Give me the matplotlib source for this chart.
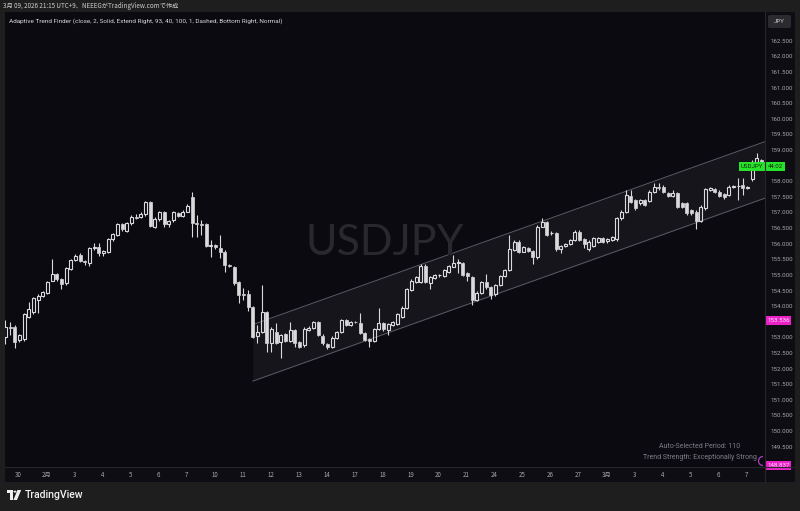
import matplotlib
matplotlib.use('Agg')
import matplotlib.pyplot as plt
from matplotlib.patches import Rectangle, Polygon, Circle, Arc, FancyBboxPatch
import matplotlib.transforms as mtransforms
import numpy as np

# ---------------- data (USDJPY, 4H candles) ----------------
opens = [
    153.02, 153.32, 153.34, 152.92, 152.95, 153.66, 153.80, 154.20, 154.34, 154.41,
    154.80, 155.02, 154.86, 154.73, 155.19, 155.48, 155.64, 155.45, 155.37, 155.85,
    155.89, 155.69, 155.74, 156.14, 156.28, 156.62, 156.41, 156.65, 156.87, 156.87,
    156.94, 157.32, 156.55, 156.79, 157.00, 156.62, 156.75, 156.98, 156.90, 157.03,
    157.48, 156.65, 156.62, 156.62, 155.93, 155.96, 155.85, 155.75, 155.32, 155.26,
    154.76, 154.38, 154.38, 153.96, 153.06, 153.18, 153.80, 152.81, 153.16, 152.86,
    153.10, 152.88, 153.24, 152.84, 152.76, 153.24, 153.31, 153.50, 153.06, 152.78,
    152.70, 152.97, 153.18, 153.56, 153.40, 153.50, 153.45, 153.13, 152.95, 152.88,
    153.27, 153.45, 153.24, 153.40, 153.43, 153.66, 153.95, 154.52, 154.78, 154.78,
    155.30, 154.73, 154.89, 154.99, 154.97, 155.10, 155.27, 155.39, 155.39, 155.05,
    154.92, 154.20, 154.43, 154.78, 154.62, 154.38, 154.68, 154.97, 155.16, 155.80,
    156.07, 155.75, 155.86, 155.77, 155.56, 156.55, 156.68, 156.33, 156.33, 155.82,
    155.93, 155.99, 156.12, 156.39, 156.14, 155.82, 155.93, 156.07, 156.17, 156.10,
    156.12, 156.14, 156.81, 157.03, 157.53, 157.40, 157.29, 157.40, 157.38, 157.67,
    157.83, 157.83, 157.61, 157.53, 157.61, 157.29, 157.29, 157.08, 157.03, 156.74,
    157.13, 157.72, 157.74, 157.67, 157.58, 157.56, 157.83, 157.85, 157.88, 157.80,
    158.06, 158.63, 158.68]
highs = [
    153.55, 153.50, 153.40, 153.12, 153.78, 154.14, 154.30, 154.38, 154.48, 154.80,
    155.51, 155.06, 154.90, 155.25, 155.52, 155.68, 155.70, 155.48, 155.90, 156.01,
    156.01, 155.80, 156.18, 156.34, 156.66, 156.66, 156.70, 156.92, 156.95, 157.02,
    157.36, 157.36, 156.84, 157.05, 157.04, 156.77, 157.04, 157.02, 157.08, 157.26,
    157.67, 156.92, 156.76, 156.66, 156.12, 156.00, 156.28, 155.80, 155.36, 155.30,
    154.80, 154.57, 154.52, 154.00, 153.40, 154.68, 153.84, 153.32, 153.45, 153.12,
    153.14, 153.50, 153.28, 152.88, 153.32, 153.36, 153.52, 153.54, 153.10, 152.82,
    153.03, 153.22, 153.60, 153.60, 153.54, 153.52, 153.77, 153.16, 152.98, 153.31,
    153.93, 153.49, 153.47, 153.54, 153.78, 153.99, 154.59, 154.86, 154.98, 155.34,
    155.34, 154.96, 155.04, 155.04, 155.20, 155.33, 155.64, 155.50, 155.43, 155.08,
    154.96, 154.47, 154.82, 155.03, 154.66, 154.72, 155.01, 155.20, 156.28, 156.11,
    156.11, 155.92, 155.90, 155.81, 156.59, 156.81, 156.72, 156.40, 156.37, 155.97,
    156.03, 156.16, 156.43, 156.43, 156.18, 156.11, 156.21, 156.21, 156.21, 156.18,
    156.26, 156.85, 157.07, 157.72, 157.72, 157.44, 157.44, 157.44, 157.71, 157.95,
    157.95, 157.87, 157.65, 157.72, 157.65, 157.33, 157.35, 157.12, 157.07, 157.23,
    157.78, 157.81, 157.78, 157.71, 157.62, 157.87, 157.89, 158.09, 158.09, 157.84,
    158.67, 158.89, 158.72]
lows = [
    152.80, 153.08, 152.65, 152.86, 152.90, 153.62, 153.75, 153.77, 154.30, 154.38,
    154.80, 154.82, 154.55, 154.68, 155.15, 155.44, 155.42, 155.33, 155.30, 155.80,
    155.60, 155.62, 155.70, 156.10, 156.24, 156.40, 156.36, 156.60, 156.78, 156.82,
    156.90, 156.52, 156.50, 156.74, 156.55, 156.55, 156.70, 156.85, 156.86, 157.00,
    156.22, 156.22, 156.28, 155.88, 155.58, 155.84, 155.53, 155.10, 155.25, 154.68,
    154.09, 154.20, 153.84, 152.98, 152.81, 153.14, 152.54, 152.54, 152.78, 152.33,
    152.86, 152.84, 152.70, 152.65, 152.70, 153.20, 153.28, 153.04, 152.77, 152.62,
    152.66, 152.94, 153.14, 153.36, 153.36, 153.46, 153.10, 152.88, 152.70, 152.84,
    153.23, 153.22, 153.08, 153.36, 153.40, 153.62, 153.92, 154.48, 154.74, 154.74,
    154.74, 154.54, 154.86, 154.95, 154.94, 155.06, 155.24, 155.05, 154.96, 154.80,
    154.04, 154.16, 154.40, 154.56, 154.22, 154.34, 154.64, 154.94, 155.12, 155.76,
    155.69, 155.72, 155.74, 155.35, 155.52, 156.52, 156.24, 156.28, 155.78, 155.69,
    155.90, 155.96, 156.08, 156.08, 155.85, 155.78, 155.89, 156.03, 156.03, 156.02,
    156.08, 156.10, 156.77, 156.99, 157.31, 157.09, 157.25, 157.20, 157.34, 157.63,
    157.73, 157.63, 157.49, 157.49, 157.15, 157.15, 156.93, 156.93, 156.46, 156.70,
    157.09, 157.68, 157.63, 157.49, 157.44, 157.52, 157.79, 157.40, 157.56, 157.76,
    158.02, 158.59, 158.55]
closes = [
    153.32, 153.30, 152.86, 153.08, 153.74, 153.91, 154.25, 154.34, 154.44, 154.76,
    155.02, 154.86, 154.72, 155.21, 155.48, 155.62, 155.45, 155.40, 155.85, 155.89,
    155.69, 155.77, 156.14, 156.30, 156.62, 156.46, 156.65, 156.87, 156.82, 156.96,
    157.32, 156.58, 156.79, 157.00, 156.62, 156.73, 157.00, 156.90, 157.03, 157.22,
    156.65, 156.62, 156.60, 155.93, 155.95, 155.89, 155.75, 155.32, 155.30, 154.73,
    154.36, 154.36, 153.98, 153.02, 153.18, 153.80, 152.81, 153.27, 152.83, 153.08,
    152.90, 153.24, 152.82, 152.70, 153.27, 153.31, 153.48, 153.08, 152.81, 152.70,
    152.99, 153.18, 153.56, 153.40, 153.50, 153.48, 153.13, 152.92, 152.88, 153.27,
    153.45, 153.26, 153.43, 153.50, 153.74, 153.95, 154.55, 154.82, 154.94, 155.30,
    154.78, 154.92, 155.00, 155.00, 155.16, 155.29, 155.37, 155.40, 155.00, 154.97,
    154.20, 154.43, 154.78, 154.60, 154.36, 154.68, 154.97, 155.16, 155.83, 156.07,
    155.75, 155.88, 155.77, 155.58, 156.55, 156.68, 156.28, 156.35, 155.82, 155.93,
    155.99, 156.12, 156.39, 156.12, 155.99, 156.07, 156.17, 156.17, 156.07, 156.14,
    156.22, 156.81, 157.03, 157.56, 157.35, 157.13, 157.40, 157.24, 157.67, 157.83,
    157.77, 157.67, 157.53, 157.63, 157.19, 157.19, 156.97, 156.97, 156.73, 157.19,
    157.74, 157.77, 157.67, 157.53, 157.48, 157.83, 157.85, 157.86, 157.80, 157.80,
    158.63, 158.73, 158.59]

day_labels = ['30', '2月', '3', '4', '5', '6', '7', '10', '11', '12', '13', '14',
              '17', '18', '19', '20', '21', '24', '25', '26', '27', '3月', '3',
              '4', '5', '6', '7']
price_ticks = [149.5, 150.0, 150.5, 151.0, 151.5, 152.0, 152.5, 153.0, 153.5,
               154.0, 154.5, 155.0, 155.5, 156.0, 156.5, 157.0, 157.5, 158.0,
               158.5, 159.0, 159.5, 160.0, 160.5, 161.0, 161.5, 162.0, 162.5]
hidden_ticks = [153.5, 158.5]   # covered by the price labels in the original

# Adaptive Trend Finder channel (period 110)
channel_start = 53
channel_end = 162
channel_upper = [153.41, 159.23]
channel_lower = [151.60, 157.42]

last_price = 158.47
last_countdown = '44:02'
marker_price_hi = 153.536
marker_price_lo = 148.837

header = '3月 09, 2026 21:15 UTC+9、NEEEGがTradingView.comで作成'
indicator_title = ('Adaptive Trend Finder (close, 2, Solid, Extend Right, 93, 40, 100, 1, '
                   'Dashed, Bottom Right, Normal)')
info_lines = ['Auto-Selected Period: 110', 'Trend Strength: Exceptionally Strong']

# ---------------- style ----------------
W, H = 800, 511
FRAME = '#1e1e1e'
PANEL = '#0e0d13'
BG = '#0b0a11'
CANDLE = '#dadadc'
TXT = '#a6a6ac'
CJK = ['Noto Sans CJK JP', 'DejaVu Sans']
SANS = ['Roboto', 'DejaVu Sans']


def fr(x0, y0, x1, y1):
    return [x0 / W, 1 - y1 / H, (x1 - x0) / W, (y1 - y0) / H]


def fx(x):
    return x / W


def fy(y):
    return 1 - y / H


fig = plt.figure(figsize=(8, 5.11), dpi=100, facecolor=FRAME)

# panel (price / time axis area)
fig.add_artist(Rectangle((fx(5), fy(482)), (795 - 5) / W, (482 - 12) / H,
                         transform=fig.transFigure, facecolor=PANEL,
                         edgecolor='none', zorder=-2))

ax = fig.add_axes(fr(5, 12, 765, 467))
ax.set_facecolor(BG)
for s in ax.spines.values():
    s.set_visible(False)

o = np.array(opens)
h = np.array(highs)
l = np.array(lows)
c = np.array(closes)
idx = np.arange(len(c))
up = c >= o
top = np.maximum(o, c)
bot = np.minimum(o, c)
body = np.maximum(top - bot, 0.012)

XL, XR = -0.1, 162.75
YL, YH = 148.85, 163.42
ax.set_xlim(XL, XR)
ax.set_ylim(YL, YH)

# channel
slope = (channel_upper[1] - channel_upper[0]) / (channel_end - channel_start)
xs = np.array([channel_start, XR])
upper = channel_upper[0] + slope * (xs - channel_start)
lower = channel_lower[0] + slope * (xs - channel_start)
ax.fill_between(xs, lower, upper, color='#16151c', lw=0, zorder=1)
ax.plot(xs, upper, color='#5c5b64', lw=0.7, zorder=2)
ax.plot(xs, lower, color='#5c5b64', lw=0.7, zorder=2)

# watermark
fig.text(fx(385), fy(243), 'USDJPY', fontsize=31, color='#29282f',
         ha='center', va='center', family=['Lato', 'DejaVu Sans'],
         zorder=0.5)

# candles
ax.vlines(idx, top, h, color=CANDLE, lw=0.8, zorder=3)
ax.vlines(idx, l, bot, color=CANDLE, lw=0.8, zorder=3)
ax.bar(idx[up], body[up], bottom=bot[up], width=0.7, facecolor='none',
       edgecolor=CANDLE, linewidth=0.8, zorder=4)
ax.bar(idx[~up], body[~up], bottom=bot[~up], width=0.7, facecolor=CANDLE,
       edgecolor=CANDLE, linewidth=0.5, zorder=4)

# axes ticks
ax.yaxis.tick_right()
ax.set_yticks(price_ticks)
ax.set_yticklabels(['' if p in hidden_ticks else '%.3f' % p for p in price_ticks],
                   family=SANS)
ax.tick_params(axis='y', length=0, pad=4, labelsize=4.4, labelcolor=TXT)
tick_pos = [2.8 + 6 * k for k in range(len(day_labels))]
ax.set_xticks(tick_pos)
ax.set_xticklabels(day_labels, family=CJK)
ax.tick_params(axis='x', length=0, pad=3.2, labelsize=4.4, labelcolor=TXT)

# separators
fig.add_artist(plt.Line2D([fx(765), fx(765)], [fy(12), fy(482)],
                          transform=fig.transFigure, color='#26262b', lw=0.8))
fig.add_artist(plt.Line2D([fx(5), fx(795)], [fy(467), fy(467)],
                          transform=fig.transFigure, color='#26262b', lw=0.8))

# header & titles
fig.text(fx(3), fy(6), header, fontsize=4.5, color='#cfcfcf', va='center',
         family=CJK)
fig.text(fx(9), fy(21), indicator_title, fontsize=4.55, color='#d6d6da',
         va='center', family=SANS)
for k, line in enumerate(info_lines):
    fig.text(fx(700), fy(446 + 11.3 * k), line, fontsize=5.0, color='#7d7d86',
             ha='center', va='center', family=SANS)

# JPY box
fig.add_artist(FancyBboxPatch((fx(768), fy(28)), 23 / W, 13 / H,
                              boxstyle='round,pad=0,rounding_size=0.003',
                              transform=fig.transFigure, facecolor='#2a2a2f',
                              edgecolor='none'))
fig.text(fx(779.5), fy(21.5), 'JPY', fontsize=4.4, color='#d0d0d0',
         ha='center', va='center', family=SANS)

# price labels (axes x fraction, data y)
trans = mtransforms.blended_transform_factory(ax.transAxes, ax.transData)


def axis_label(price, text, face, tcolor, x=767, ha='left'):
    ax.text((x - 5) / 760, price, text, transform=trans, fontsize=4.4,
            color=tcolor, ha=ha, va='center', family=SANS, zorder=20,
            clip_on=False,
            bbox=dict(boxstyle='square,pad=0.3', facecolor=face, edgecolor='none'))


GREEN = '#27e22a'
MAG = '#ea22c8'
axis_label(last_price, last_countdown, GREEN, '#0c2a0c', x=768)
axis_label(last_price, 'USDJPY', GREEN, '#0c2a0c', x=763, ha='right')
axis_label(marker_price_hi, format(marker_price_hi, '.3f'), MAG, '#ffe0f6')
axis_label(marker_price_lo + 0.07, format(marker_price_lo, '.3f'), MAG, '#ffe0f6')

fig.add_artist(Arc((fx(763), fy(461)), 9 / W, 9 / H, theta1=90, theta2=270,
                   transform=fig.transFigure, color='#b040c0', lw=0.9))

# footer TradingView logo
logo_col = '#f0f0f0'
fig.add_artist(Polygon([(fx(7), fy(490)), (fx(12.5), fy(490)), (fx(12.5), fy(500)),
                        (fx(10), fy(500)), (fx(10), fy(492.6)), (fx(7), fy(492.6))],
                       closed=True, transform=fig.transFigure, facecolor=logo_col,
                       edgecolor='none'))
fig.add_artist(Circle((fx(15), fy(491.6)), 1.5 / W, transform=fig.transFigure,
                      facecolor=logo_col, edgecolor='none'))
fig.add_artist(Polygon([(fx(17.5), fy(490)), (fx(21.2), fy(490)), (fx(17), fy(500)),
                        (fx(13.4), fy(500))], closed=True,
                       transform=fig.transFigure, facecolor=logo_col, edgecolor='none'))
fig.text(fx(24.5), fy(495), 'TradingView', fontsize=7.6, color=logo_col,
         va='center', ha='left', family=SANS, fontweight='medium')

fig.savefig('out.png', dpi=100, facecolor=FRAME)
